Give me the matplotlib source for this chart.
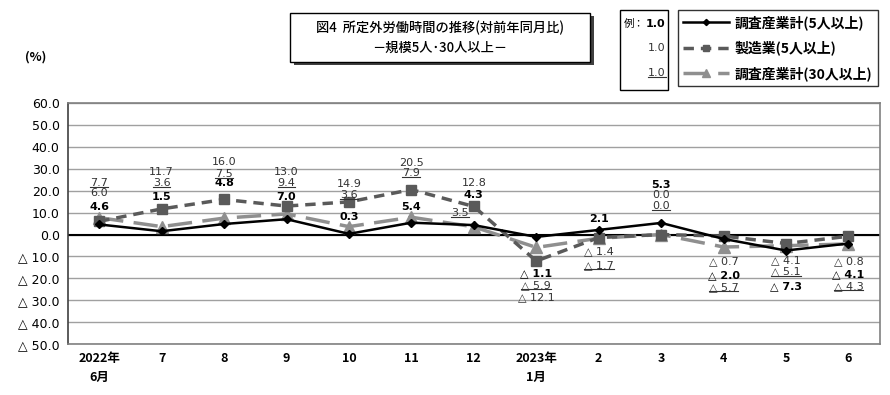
import numpy as np
import matplotlib
matplotlib.use('Agg')
import matplotlib.pyplot as plt
from matplotlib.lines import Line2D
from matplotlib.patches import Rectangle

plt.rcParams['font.family'] = ['Noto Sans CJK JP', 'DejaVu Sans']

# data (%)
months = ['2022年\n6月', '7', '8', '9', '10', '11', '12', '2023年\n1月', '2', '3', '4', '5', '6']
total5 = [4.6, 1.5, 4.8, 7.0, 0.3, 5.4, 4.3, -1.1, 2.1, 5.3, -2.0, -7.3, -4.1]
manuf5 = [6.0, 11.7, 16.0, 13.0, 14.9, 20.5, 12.8, -12.1, -1.4, 0.0, -0.7, -4.1, -0.8]
total30 = [7.7, 3.6, 7.5, 9.4, 3.6, 7.9, 3.5, -5.9, -1.7, 0.0, -5.7, -5.1, -4.3]
names = ['調査産業計(5人以上)', '製造業(5人以上)', '調査産業計(30人以上)']
yticks = np.arange(-50, 61, 10)

# vertical offsets (pixels) of the value labels from their points
off_total5 = [-17, -34, -41, -22, -17, -16, -30, 36, -11, -38, 36, 36, 31]
off_manuf5 = [-28, -37, -37, -34, -18, -27, -23, 36, 14, -40, 25, 17, 25]
off_total30 = [-35, -44, -44, -31, -32, -44, -14, 38, 27, -29, 40, 26, 42]
xoff_total30 = [0, 0, 0, 0, 0, 0, -14, 0, 0, 0, 0, 0, 0]

num_font = ['Liberation Sans Narrow', 'DejaVu Sans']


def fmt(v):
    if v < 0:
        return '△ %.1f' % abs(v)
    return '%.1f' % v


fig = plt.figure(figsize=(8.9, 3.95), dpi=100)
ax = fig.add_axes([0.0764, 0.129, 0.912, 0.61])
x = np.arange(len(months))

ax.plot(x, total30, color='#8f8f8f', lw=2.5, dashes=(7, 3), marker='^', ms=8,
        markeredgecolor='#8f8f8f', zorder=3, label=names[2])
ax.plot(x, manuf5, color='#5a5a5a', lw=2.5, dashes=(3, 2), marker='s', ms=7,
        markeredgecolor='#5a5a5a', zorder=4, label=names[1])
ax.plot(x, total5, color='black', lw=1.8, marker='D', ms=4.5, zorder=5, label=names[0])

ax.set_xlim(-0.5, len(months) - 0.5)
ax.set_ylim(-50, 60)
ax.set_yticks(yticks)
ax.set_yticklabels([fmt(v) for v in yticks], family=num_font, fontsize=9)
ax.set_xticks(x)
ax.set_xticklabels(months, fontsize=9, fontweight='bold', linespacing=1.6)
ax.tick_params(length=0, pad=6)
ax.yaxis.grid(True, color='#a0a0a0', lw=1)
ax.set_axisbelow(True)
ax.axhline(0, color='black', lw=1.5, zorder=2)
for s in ax.spines.values():
    s.set_color('#808080')
    s.set_linewidth(1.2)
ax.spines['left'].set_color('#404040')

underlined = []
for i in x:
    ax.annotate(fmt(total5[i]), (i, total5[i]), xytext=(0, -off_total5[i]),
                textcoords='offset pixels', ha='center', va='center',
                family=num_font, fontsize=8, fontweight='bold', zorder=6)
    ax.annotate(fmt(manuf5[i]), (i, manuf5[i]), xytext=(0, -off_manuf5[i]),
                textcoords='offset pixels', ha='center', va='center',
                family=num_font, fontsize=8, color='#333333', zorder=6)
    t = ax.annotate(fmt(total30[i]), (i, total30[i]),
                    xytext=(xoff_total30[i], -off_total30[i]),
                    textcoords='offset pixels', ha='center', va='center',
                    family=num_font, fontsize=8, color='#333333', zorder=6)
    underlined.append(t)

fig.text(0.04, 0.855, '(%)', fontsize=9, fontweight='bold', ha='center', va='center')

# title box with shadow
fig.add_artist(Rectangle((0.330, 0.835), 0.337, 0.125, transform=fig.transFigure,
                         facecolor='#404040', edgecolor='none'))
fig.add_artist(Rectangle((0.326, 0.843), 0.337, 0.125, transform=fig.transFigure,
                         facecolor='white', edgecolor='black', lw=1))
fig.text(0.4945, 0.93, '図4  所定外労働時間の推移(対前年同月比)', fontsize=9.5,
         fontweight='medium', ha='center', va='center')
fig.text(0.4945, 0.88, '－規模5人･30人以上－', fontsize=9.5, fontweight='medium',
         ha='center', va='center')

# example box
fig.add_artist(Rectangle((0.697, 0.772), 0.054, 0.203, transform=fig.transFigure,
                         facecolor='white', edgecolor='black', lw=1))
fig.text(0.7005, 0.94, '例：', fontsize=7.5, ha='left', va='center')
fig.text(0.748, 0.94, '1.0', fontsize=8, fontweight='bold', family=num_font,
         ha='right', va='center')
fig.text(0.748, 0.878, '1.0', fontsize=8, family=num_font, color='#333333',
         ha='right', va='center')
ex = fig.text(0.748, 0.815, '1.0', fontsize=8, family=num_font, color='#333333',
              ha='right', va='center')
underlined.append(ex)

handles, labels = ax.get_legend_handles_labels()
leg = fig.legend(handles[::-1], labels[::-1], loc='upper right',
                 bbox_to_anchor=(0.9865, 0.975), frameon=True,
                 prop={'size': 10, 'weight': 'bold'},
                 fancybox=False, edgecolor='black', handlelength=3.3,
                 labelspacing=0.75, borderpad=0.4, handletextpad=0.4,
                 borderaxespad=0, markerscale=0.7)
leg.get_frame().set_linewidth(1)

# underline the 30人以上 labels
fig.canvas.draw()
r = fig.canvas.get_renderer()
inv = fig.transFigure.inverted()
for t in underlined:
    bb = t.get_window_extent(r)
    (x0, y0), (x1, _) = inv.transform([[bb.x0, bb.y0 + 1], [bb.x1, bb.y0 + 1]])
    fig.add_artist(Line2D([x0, x1], [y0, y0], transform=fig.transFigure,
                          color='#333333', lw=0.8))

fig.savefig('out.png', dpi=100)
